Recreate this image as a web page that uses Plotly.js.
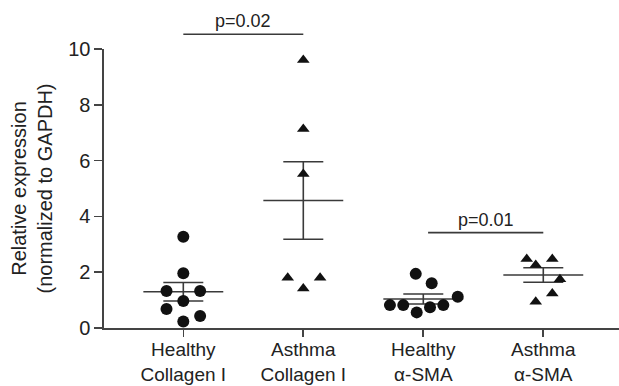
<!DOCTYPE html>
<html>
<head>
<meta charset="utf-8">
<script src="https://cdn.plot.ly/plotly-3.0.1.min.js"></script>
<style>html,body{margin:0;padding:0;background:#fff;}#chart{width:619px;height:386px;}</style>
</head>
<body>
<div id="chart"></div>
<script>
// Categories and tick labels
var categories = ["Healthy Collagen I", "Asthma Collagen I", "Healthy α-SMA", "Asthma α-SMA"];
var tickLabels = ["Healthy<br>Collagen I", "Asthma<br>Collagen I", "Healthy<br>α-SMA", "Asthma<br>α-SMA"];

// Individual values (relative expression) per group
var healthyCollagen = [3.27, 1.96, 1.33, 1.33, 0.97, 0.68, 0.43, 0.23];
var asthmaCollagen  = [9.61, 7.13, 5.52, 1.80, 1.80, 1.42];
var healthySMA      = [1.94, 1.60, 1.12, 0.82, 0.82, 0.56, 0.74, 0.82];
var asthmaSMA       = [2.47, 2.47, 2.26, 1.75, 1.24, 0.94];

// Horizontal scatter spread of each point (category units)
var healthyCollagenSpread = [0, 0, -0.14, 0.14, 0, -0.14, 0.14, 0];
var asthmaCollagenSpread  = [0, 0, 0, -0.13, 0.14, 0];
var healthySMASpread      = [-0.063, 0.07, 0.287, -0.278, -0.167, -0.055, 0.056, 0.167];
var asthmaSMASpread       = [-0.138, 0.075, -0.063, 0.139, 0.075, -0.063];

// Group mean and SEM
var groupMeans = [1.30, 4.57, 1.04, 1.90];
var groupSEM   = [0.33, 1.39, 0.18, 0.26];

// Significance comparisons
var sigFrom   = [0, 2.04];
var sigTo     = [1, 3.0];
var sigY      = [10.53, 3.42];
var sigLabels = ["p=0.02", "p=0.01"];

var yMax = 10;
var groups = [healthyCollagen, asthmaCollagen, healthySMA, asthmaSMA];
var spreads = [healthyCollagenSpread, asthmaCollagenSpread, healthySMASpread, asthmaSMASpread];
var symbols = ["circle", "triangle-up", "circle", "triangle-up"];
var sizes = [12, 11, 12, 11];

var traces = [];
var lineCol = "#3a3a3a";
for (var g = 0; g < groups.length; g++) {
  // mean line
  traces.push({
    type: "scatter", mode: "lines", hoverinfo: "skip", showlegend: false,
    x: [g - 0.333, g + 0.333], y: [groupMeans[g], groupMeans[g]],
    line: {color: lineCol, width: 1.6}
  });
  // SEM bar
  traces.push({
    type: "scatter", mode: "markers", hoverinfo: "skip", showlegend: false,
    x: [g], y: [groupMeans[g]],
    marker: {opacity: 0, size: 1},
    error_y: {type: "data", array: [groupSEM[g]], visible: true, width: 20, thickness: 1.6, color: lineCol}
  });
}
for (var g2 = 0; g2 < groups.length; g2++) {
  var xs = groups[g2].map(function (v, i) { return g2 + spreads[g2][i]; });
  traces.push({
    type: "scatter", mode: "markers", name: categories[g2], showlegend: false,
    x: xs, y: groups[g2], cliponaxis: false,
    marker: {symbol: symbols[g2], size: sizes[g2], color: "#111", line: {width: 0}}
  });
}

var shapes = [], annotations = [];
for (var s = 0; s < sigLabels.length; s++) {
  shapes.push({
    type: "line", xref: "x", yref: "paper",
    x0: sigFrom[s], x1: sigTo[s], y0: sigY[s] / yMax, y1: sigY[s] / yMax,
    line: {color: lineCol, width: 1.6}
  });
  annotations.push({
    xref: "x", yref: "paper", x: (sigFrom[s] + sigTo[s]) / 2, y: sigY[s] / yMax,
    yanchor: "bottom", xanchor: "center", showarrow: false, yshift: 1,
    text: sigLabels[s], font: {family: "Liberation Sans, Arial, sans-serif", size: 18, color: "#222"}
  });
}

var layout = {
  width: 619, height: 386,
  margin: {l: 104, r: 0, t: 49, b: 58},
  paper_bgcolor: "#fff", plot_bgcolor: "#fff",
  font: {family: "Liberation Sans, Arial, sans-serif", size: 20, color: "#222"},
  showlegend: false,
  xaxis: {
    range: [-0.661, 3.631], tickmode: "array", tickvals: [0, 1, 2, 3], ticktext: tickLabels,
    showgrid: false, zeroline: false, showline: true, linecolor: "#444", linewidth: 1.6,
    ticks: "outside", ticklen: 7, tickwidth: 1.6, tickcolor: "#444",
    ticklabelstandoff: -3,
    tickfont: {size: 19, color: "#222"}
  },
  yaxis: {
    range: [0, yMax], tickvals: [0, 2, 4, 6, 8, 10],
    showgrid: false, zeroline: false, showline: true, linecolor: "#444", linewidth: 1.6,
    ticks: "outside", ticklen: 8, tickwidth: 1.6, tickcolor: "#444",
    tickfont: {size: 20, color: "#222"},
    title: {text: "Relative expression<br>(normalized to GAPDH)", font: {size: 20, color: "#222"}, standoff: 10}
  },
  shapes: shapes,
  annotations: annotations
};

Plotly.newPlot("chart", traces, layout, {displayModeBar: false, staticPlot: true});
</script>
</body>
</html>
